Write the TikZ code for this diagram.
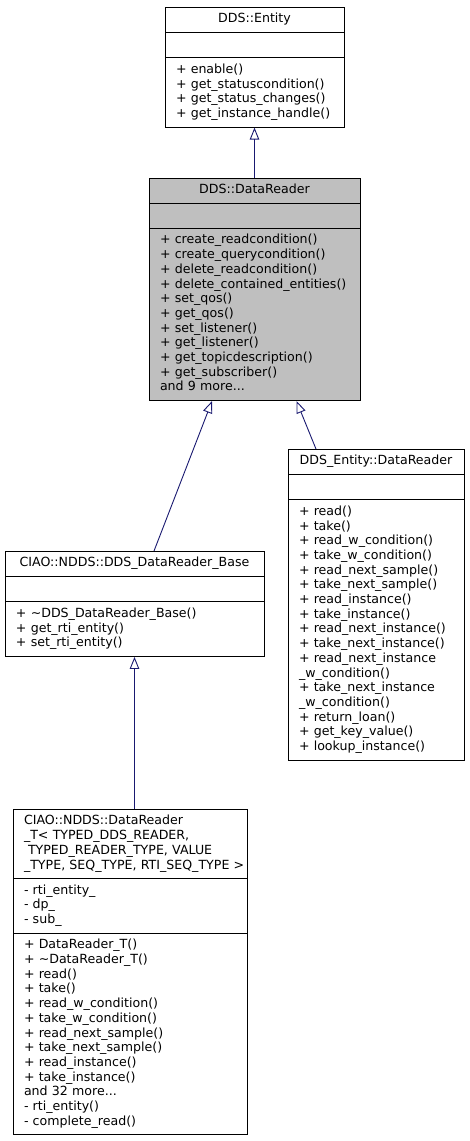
\documentclass[tikz,border=0pt]{standalone}
\usepackage{fontspec}
\setmainfont{DejaVu Sans}
\usepackage{tikz}
\usetikzlibrary{arrows.meta,positioning,shapes.multipart}
\newcommand{\umlClass}[3]{%
	\strut#1\strut%
	\nodepart{two}%
	\strut#2\strut%
	\nodepart{three}%
	\strut#3\strut%
}
\definecolor{edgeblue}{HTML}{191970}
\definecolor{focusgray}{HTML}{BFBFBF}

\begin{document}
\begin{tikzpicture} %
		[
			x=1pt, y=1pt,
			font={\fontsize{12.6}{14.7}\selectfont},
			every text node part/.style={align=center}, % title centred
			every two node part/.style={align=left}, % members flushed left
			every three node part/.style={align=left},
			classbox/.style={
				anchor=north,
				draw=black,
				line width=0.9pt,
				fill=white,
				rectangle split,
				rectangle split parts=3,
				rectangle split part align={center, left, left},
				inner xsep=11pt,
				inner ysep=4.8pt,
				text width=#1,
			},
			focus/.style={fill=focusgray},
			inherit/.style={draw=edgeblue, line width=0.9pt, -{Triangle[open,length=12pt,width=9.5pt]}},
		]
		\useasboundingbox (0,0) rectangle (469,-1141);
		\node[classbox=157pt] 
		(entity) at (254.5,-7) 
		{\umlClass{DDS::Entity}{}
			{+~enable()\\+~get\_statuscondition()\\+~get\_status\_changes()\\+~get\_instance\_handle()}};
		\node[classbox=189pt, focus, below=50pt of entity] 
		(reader) 
		{\umlClass{DDS::DataReader}{}
			{+~create\_readcondition()\\+~create\_querycondition()\\+~delete\_readcondition()\\
			+~delete\_contained\_entities()\\+~set\_qos()\\+~get\_qos()\\+~set\_listener()\\
			+~get\_listener()\\+~get\_topicdescription()\\+~get\_subscriber()\\and~9~more...}};
		\node[classbox=154pt] 
		(ddsreader) at (376,-449) 
		{\umlClass{DDS\_Entity::DataReader}{}
			{+~read()\\+~take()\\+~read\_w\_condition()\\+~take\_w\_condition()\\
			+~read\_next\_sample()\\+~take\_next\_sample()\\+~read\_instance()\\+~take\_instance()\\
			+~read\_next\_instance()\\+~take\_next\_instance()\\+~read\_next\_instance\\\_w\_condition()\\
			+~take\_next\_instance\\\_w\_condition()\\+~return\_loan()\\+~get\_key\_value()\\
			+~lookup\_instance()}};
		\node[classbox=237pt] 
		(base) at (134.5,-551) 
		{\umlClass{CIAO::NDDS::DDS\_DataReader\_Base}{}
			{+~\textasciitilde DDS\_DataReader\_Base()\\+~get\_rti\_entity()\\+~set\_rti\_entity()}};
		\node[classbox=212pt, every text node part/.style={align=left}, below=152pt of base, xshift=-4.5pt] 
		(readerT) 
		{\umlClass{CIAO::NDDS::DataReader\\\_T<~TYPED\_DDS\_READER,\\
				\hspace*{4pt}TYPED\_READER\_TYPE,~VALUE\\\_TYPE,~SEQ\_TYPE,~RTI\_SEQ\_TYPE~>}
			{-~rti\_entity\_\\-~dp\_\\-~sub\_}
			{+~DataReader\_T()\\+~\textasciitilde DataReader\_T()\\+~read()\\+~take()\\
			+~read\_w\_condition()\\+~take\_w\_condition()\\+~read\_next\_sample()\\
			+~take\_next\_sample()\\+~read\_instance()\\+~take\_instance()\\and~32~more...\\
			-~rti\_entity()\\-~complete\_read()}};
		\draw[inherit] 
		(reader) 
		-- 
		(entity);
		\draw[inherit] 
		([xshift=19.5pt]base.north) 
		-- 
		([xshift=-42.5pt]reader.south);
		\draw[inherit] 
		([xshift=-60pt]ddsreader.north) 
		-- 
		([xshift=42pt]reader.south);
		\draw[inherit] 
		(readerT.north -| base.south) 
		-- 
		(base.south);
	\end{tikzpicture}
\end{document}
